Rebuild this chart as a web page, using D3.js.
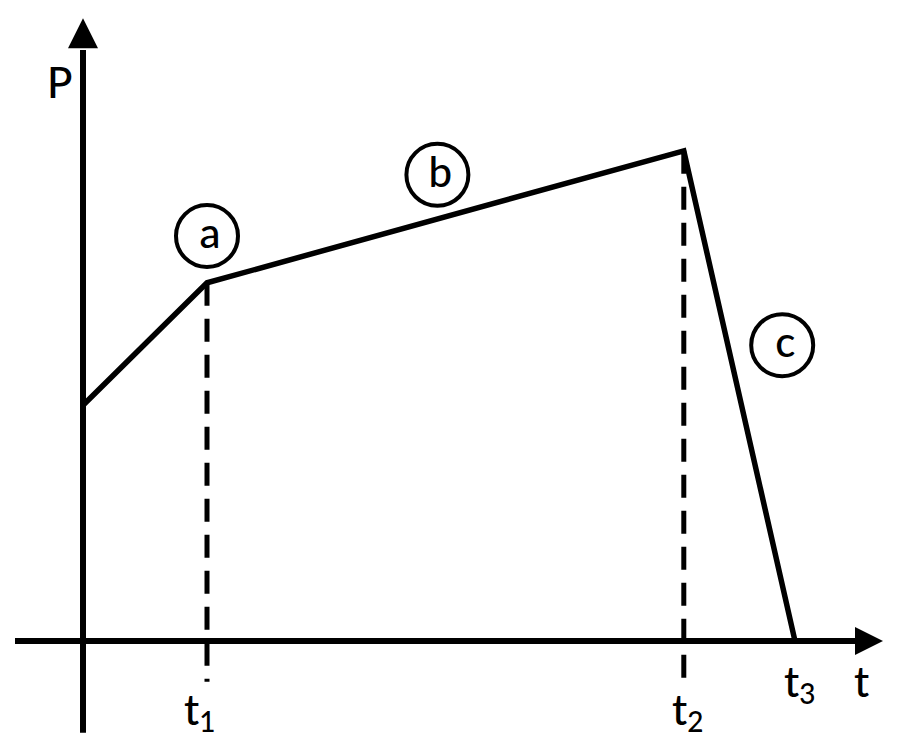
<!DOCTYPE html>
<html><head><meta charset="utf-8">
<script src="https://cdn.jsdelivr.net/npm/d3@7"></script>
<style>html,body{margin:0;padding:0;background:#fff;}</style>
</head><body>
<svg id="chart" width="900" height="755"></svg>
<script>
// data
const phaseTimes = [0, 15.5, 75.1, 89];          // t0, t1, t2, t3
const phasePower = [39.3, 59.7, 81.7, 0];        // P at each time
const tickNames = ["t1", "t2", "t3"];
const tickSubs = ["1", "2", "3"];
const phaseLabels = ["a", "b", "c"];
const labelT = [15.5, 44.3, 87.4];
const labelP = [67.5, 77.7, 49.3];

const svg = d3.select("#chart");
const x = d3.scaleLinear().domain([0, 100]).range([83, 883]);
const y = d3.scaleLinear().domain([0, 100]).range([641, 41]);
const font = "Lato, 'Open Sans', sans-serif";

// axes
svg.append("line").attr("x1", x(-8.5)).attr("x2", x(96.5)).attr("y1", y(0)).attr("y2", y(0))
  .attr("stroke", "#000").attr("stroke-width", 6);
svg.append("path").attr("d", `M${x(100)},${y(0)} L${x(96.5)},${y(0)-14} L${x(96.5)},${y(0)+14} Z`).attr("fill", "#000");
svg.append("line").attr("x1", x(0)).attr("x2", x(0)).attr("y1", y(-15.3)).attr("y2", y(98.5))
  .attr("stroke", "#000").attr("stroke-width", 6);
svg.append("path").attr("d", `M${x(0)},${y(103.8)} L${x(0)-15},${y(98.8)} L${x(0)+15},${y(98.8)} Z`).attr("fill", "#000");

// dashed verticals at t1, t2
[1, 2].forEach(i => {
  svg.append("line").attr("x1", x(phaseTimes[i])).attr("x2", x(phaseTimes[i]))
    .attr("y1", y(phasePower[i])).attr("y2", y(-6.8))
    .attr("stroke", "#000").attr("stroke-width", 5).attr("stroke-dasharray", "23,13");
});

// main line
const line = d3.line().x(d => x(d[0])).y(d => y(d[1]));
svg.append("path").datum(phaseTimes.map((t, i) => [t, phasePower[i]]))
  .attr("d", line).attr("fill", "none").attr("stroke", "#000").attr("stroke-width", 5.5)
  .attr("stroke-linejoin", "miter");

// circled labels
phaseLabels.forEach((l, i) => {
  const cx = x(labelT[i]), cy = y(labelP[i]);
  svg.append("circle").attr("cx", cx).attr("cy", cy).attr("r", 31)
    .attr("fill", "none").attr("stroke", "#000").attr("stroke-width", 4);
  svg.append("text").attr("x", cx + 3).attr("y", cy + 12).attr("text-anchor", "middle")
    .attr("font-family", font).attr("font-size", 42).attr("font-weight", 500).text(l);
});

// axis titles
svg.append("text").attr("x", 47).attr("y", 98).attr("font-family", font).attr("font-size", 42).attr("font-weight", 500).text("P");
svg.append("text").attr("x", 854).attr("y", 697).attr("font-family", font).attr("font-size", 42).attr("font-weight", 500).text("t");

// tick labels t1 t2 t3
const tickPos = [[phaseTimes[1], 184, 725], [phaseTimes[2], 672, 725], [phaseTimes[3], 784, 697]];
tickSubs.forEach((s, i) => {
  const tx = tickPos[i][1], ty = tickPos[i][2];
  const t = svg.append("text").attr("x", tx).attr("y", ty).attr("font-family", font).attr("font-size", 42).attr("font-weight", 500);
  t.append("tspan").text("t");
  t.append("tspan").attr("font-size", 28).attr("dy", 7).text(s);
});
</script>
</body></html>
